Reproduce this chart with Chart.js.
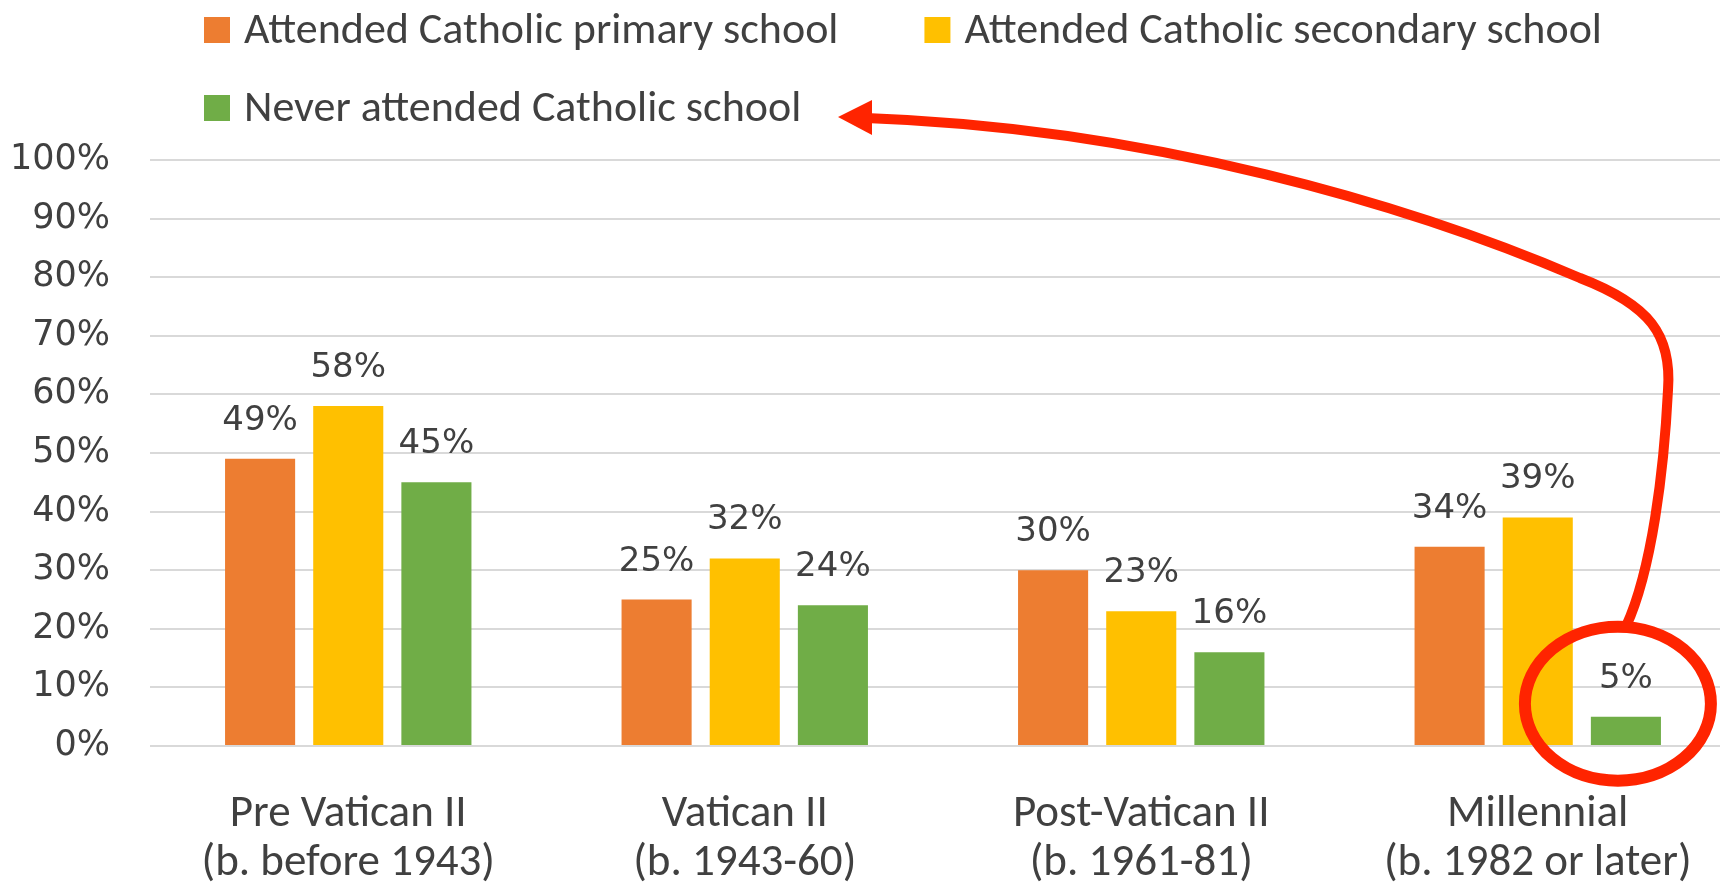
<!DOCTYPE html>
<html>
<head>
<meta charset="utf-8">
<script src="https://cdn.jsdelivr.net/npm/chart.js@4.4.1/dist/chart.umd.min.js"></script>
<style>
    html, body { margin: 0; padding: 0; background: #fff; overflow: hidden; }
    #ChartDiv { width: 1736px; height: 886px; }
</style>
</head>
<body>
<div id="ChartDiv"><canvas id="EscolasChart" width="1736" height="886"></canvas></div>
<script>
/*Dados do grafico*/
const categorias = [
    ['Pre Vatican II', '(b. before 1943)'],
    ['Vatican II', '(b. 1943-60)'],
    ['Post-Vatican II', '(b. 1961-81)'],
    ['Millennial', '(b. 1982 or later)']
]
const nomes_series = [
    'Attended Catholic primary school',
    'Attended Catholic secondary school',
    'Never attended Catholic school'
]
const primaria = [49, 25, 30, 34]
const secundaria = [58, 32, 23, 39]
const nunca = [45, 24, 16, 5]
const eixo_y = {min: 0, max: 100, passo: 10}

const cores = ['#ED7D31', '#FFC000', '#70AD47']
const cor_texto = '#404040'
const fonte_calibri = 'Carlito, "Liberation Sans Narrow", "Open Sans", sans-serif'
const fonte_numeros = '"DejaVu Sans", Verdana, sans-serif'


/*Legenda desenhada a mao, alinhada a esquerda em duas linhas*/
const legenda = {
    id: 'legenda',
    afterDraw(chart) {
        const ctx = chart.ctx
        ctx.save()
        ctx.font = '44px ' + fonte_calibri
        ctx.textBaseline = 'middle'
        let x = 204
        let y = 30
        chart.data.datasets.forEach((ds) => {
            const largura = 40 + ctx.measureText(ds.label).width
            if (x + largura > 1640) {
                x = 204
                y += 78
            }
            ctx.fillStyle = ds.backgroundColor
            ctx.fillRect(x, y - 13, 26, 26)
            ctx.fillStyle = cor_texto
            ctx.fillText(ds.label, x + 40, y + 2)
            x += largura + 86
        })
        ctx.restore()
    }
}

/*Rotulos de porcentagem em cima de cada barra*/
const rotulos = {
    id: 'rotulos',
    afterDatasetsDraw(chart) {
        const ctx = chart.ctx
        ctx.save()
        ctx.font = '34px ' + fonte_numeros
        ctx.fillStyle = cor_texto
        ctx.textAlign = 'center'
        ctx.textBaseline = 'alphabetic'
        chart.data.datasets.forEach((ds, i) => {
            chart.getDatasetMeta(i).data.forEach((barra, j) => {
                ctx.fillText(ds.data[j] + '%', barra.x, barra.y - 29)
            })
        })
        ctx.restore()
    }
}

/*Circulo vermelho no menor valor e seta ate a legenda*/
const destaque = {
    id: 'destaque',
    afterDraw(chart) {
        const barra = chart.getDatasetMeta(2).data[3]
        const cx = barra.x - 8
        const cy = barra.y - 13
        const ctx = chart.ctx
        ctx.save()
        ctx.strokeStyle = '#ff2400'
        ctx.fillStyle = '#ff2400'
        ctx.lineCap = 'round'
        ctx.lineJoin = 'round'

        ctx.lineWidth = 12
        ctx.beginPath()
        ctx.ellipse(cx, cy, 93, 77, 0, 0, Math.PI * 2)
        ctx.stroke()

        ctx.lineWidth = 10
        ctx.beginPath()
        ctx.moveTo(cx + 8, cy - 77)
        ctx.bezierCurveTo(1652, 570, 1664, 470, 1668, 390)
        ctx.bezierCurveTo(1672, 335, 1650, 305, 1580, 278)
        ctx.bezierCurveTo(1410, 205, 1150, 128, 866, 118)
        ctx.stroke()

        ctx.beginPath()
        ctx.moveTo(838, 117)
        ctx.lineTo(872, 100)
        ctx.lineTo(872, 135)
        ctx.closePath()
        ctx.fill()
        ctx.restore()
    }
}


const ctx = document.getElementById('EscolasChart').getContext('2d')
const EscolasChart = new Chart(ctx, {
    type: 'bar',
    data: {
        labels: categorias,
        datasets: [primaria, secundaria, nunca].map((valores, i) => ({
            label: nomes_series[i],
            data: valores,
            backgroundColor: cores[i],
            categoryPercentage: 0.667,
            barPercentage: 0.795
        }))
    },
    options: {
        responsive: false,
        animation: false,
        devicePixelRatio: 1,
        layout: {padding: {top: 160, left: 13, right: 0, bottom: 1}},
        plugins: {
            legend: {display: false},
            tooltip: {enabled: false}
        },
        scales: {
            x: {
                grid: {display: false},
                border: {display: false},
                afterFit: (escala) => { escala.height = 139 },
                ticks: {
                    color: cor_texto,
                    padding: 36,
                    font: {family: fonte_calibri, size: 45, lineHeight: 1.09}
                }
            },
            y: {
                min: eixo_y.min,
                max: eixo_y.max,
                grid: {color: '#d9d9d9', lineWidth: 2, drawTicks: false},
                border: {display: false},
                afterFit: (escala) => { escala.width = 137 },
                ticks: {
                    stepSize: eixo_y.passo,
                    color: cor_texto,
                    padding: 40,
                    font: {family: fonte_numeros, size: 35},
                    callback: (v) => v + '%'
                }
            }
        }
    },
    plugins: [rotulos, legenda, destaque]
})
</script>
</body>
</html>
